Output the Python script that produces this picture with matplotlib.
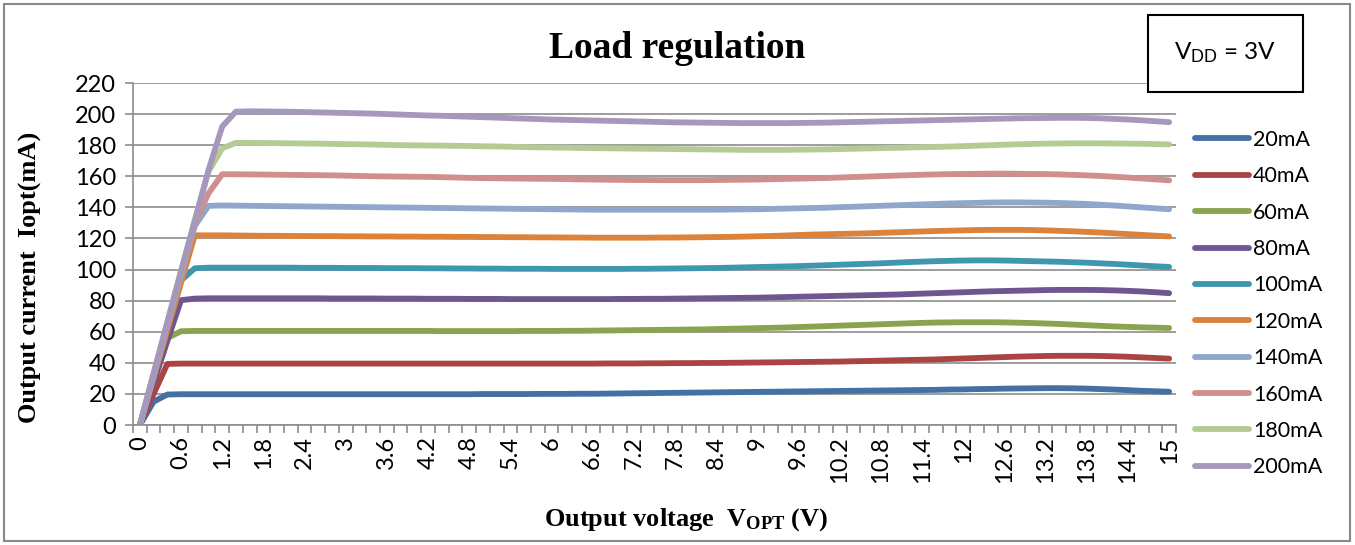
import numpy as np
import matplotlib.pyplot as plt
from matplotlib.patches import Rectangle

plt.rcParams['font.family'] = ['Lato', 'DejaVu Sans']
plt.rcParams['mathtext.fontset'] = 'custom'
plt.rcParams['mathtext.bf'] = 'Liberation Serif:bold'
plt.rcParams['mathtext.rm'] = 'Liberation Serif'
plt.rcParams['mathtext.sf'] = 'Lato'

# категории по оси X: 0 ... 15 В с шагом 0.2
voltage = np.round(np.arange(76) * 0.2, 1)

names = ['20mA', '40mA', '60mA', '80mA', '100mA',
         '120mA', '140mA', '160mA', '180mA', '200mA']
colors = ['#4470A5', '#A94442', '#88A44C', '#6F5690', '#3F97AE',
          '#DC823A', '#8FA7CC', '#D08E8D', '#B5CB94', '#A598BC']

i20 = [0, 15.0, 19.6, 19.8, 19.8, 19.8, 19.8, 19.8, 19.8, 19.8,
       19.8, 19.8, 19.8, 19.8, 19.8, 19.8, 19.8, 19.8, 19.8, 19.8,
       19.8, 19.8, 19.8, 19.8, 19.8, 19.9, 19.9, 19.9, 19.9, 20.0,
       20.0, 20.0, 20.1, 20.1, 20.2, 20.3, 20.4, 20.5, 20.6, 20.7,
       20.8, 20.9, 21.0, 21.1, 21.2, 21.3, 21.4, 21.5, 21.6, 21.7,
       21.8, 21.9, 22.0, 22.1, 22.2, 22.3, 22.4, 22.5, 22.6, 22.8,
       22.9, 23.1, 23.2, 23.4, 23.5, 23.6, 23.7, 23.7, 23.6, 23.4,
       23.1, 22.8, 22.4, 22.0, 21.7, 21.4]
i40 = [0, 20.0, 39.3, 39.5, 39.5, 39.5, 39.5, 39.5, 39.5, 39.5,
       39.5, 39.5, 39.5, 39.5, 39.5, 39.5, 39.5, 39.5, 39.5, 39.5,
       39.5, 39.5, 39.5, 39.5, 39.5, 39.5, 39.5, 39.5, 39.5, 39.5,
       39.5, 39.5, 39.5, 39.5, 39.6, 39.6, 39.6, 39.7, 39.7, 39.8,
       39.8, 39.9, 39.9, 40.0, 40.1, 40.2, 40.3, 40.4, 40.5, 40.6,
       40.7, 40.8, 41.0, 41.2, 41.4, 41.6, 41.8, 42.0, 42.2, 42.5,
       42.8, 43.1, 43.4, 43.7, 44.0, 44.2, 44.4, 44.5, 44.5, 44.5,
       44.4, 44.2, 43.9, 43.5, 43.1, 42.7]
i60 = [0, 28.0, 56.0, 60.3, 60.5, 60.5, 60.5, 60.5, 60.5, 60.5,
       60.5, 60.5, 60.5, 60.5, 60.5, 60.5, 60.5, 60.5, 60.5, 60.5,
       60.5, 60.5, 60.4, 60.4, 60.4, 60.4, 60.4, 60.4, 60.5, 60.5,
       60.5, 60.6, 60.6, 60.7, 60.8, 60.9, 61.0, 61.1, 61.2, 61.3,
       61.4, 61.5, 61.7, 61.9, 62.1, 62.3, 62.5, 62.7, 63.0, 63.3,
       63.6, 63.9, 64.2, 64.5, 64.8, 65.1, 65.4, 65.7, 65.9, 66.0,
       66.1, 66.1, 66.1, 66.0, 65.8, 65.6, 65.3, 65.0, 64.6, 64.2,
       63.8, 63.4, 63.1, 62.8, 62.6, 62.4]
i80 = [0, 27.0, 54.0, 80.3, 81.3, 81.5, 81.5, 81.5, 81.5, 81.5,
       81.5, 81.5, 81.5, 81.5, 81.4, 81.4, 81.4, 81.4, 81.3, 81.3,
       81.3, 81.2, 81.2, 81.2, 81.1, 81.1, 81.1, 81.0, 81.0, 81.0,
       81.0, 81.0, 81.0, 81.0, 81.0, 81.1, 81.1, 81.2, 81.2, 81.3,
       81.4, 81.5, 81.6, 81.7, 81.8, 81.9, 82.1, 82.3, 82.5, 82.7,
       82.9, 83.1, 83.3, 83.5, 83.7, 83.9, 84.2, 84.5, 84.8, 85.1,
       85.4, 85.7, 86.0, 86.2, 86.4, 86.6, 86.8, 86.9, 86.9, 86.9,
       86.8, 86.6, 86.3, 85.9, 85.4, 84.8]
i100 = [0, 31.0, 62.0, 93.0, 100.8, 101.2, 101.2, 101.2, 101.2, 101.2,
        101.2, 101.2, 101.1, 101.1, 101.1, 101.0, 101.0, 101.0, 100.9, 100.9,
        100.9, 100.8, 100.8, 100.7, 100.7, 100.6, 100.6, 100.5, 100.5, 100.5,
        100.4, 100.4, 100.4, 100.4, 100.4, 100.4, 100.5, 100.5, 100.6, 100.7,
        100.8, 100.9, 101.0, 101.2, 101.4, 101.6, 101.8, 102.0, 102.2, 102.5,
        102.8, 103.1, 103.4, 103.7, 104.0, 104.4, 104.8, 105.1, 105.4, 105.6,
        105.8, 105.9, 105.9, 105.8, 105.6, 105.4, 105.2, 105.0, 104.7, 104.4,
        104.0, 103.6, 103.1, 102.6, 102.1, 101.7]
i120 = [0, 30.5, 61.0, 91.5, 122.0, 122.0, 122.0, 121.9, 121.8, 121.7,
        121.7, 121.6, 121.6, 121.5, 121.5, 121.4, 121.4, 121.3, 121.3, 121.2,
        121.2, 121.1, 121.1, 121.0, 121.0, 120.9, 120.9, 120.8, 120.8, 120.7,
        120.7, 120.6, 120.6, 120.5, 120.5, 120.5, 120.5, 120.5, 120.6, 120.6,
        120.7, 120.8, 120.9, 121.0, 121.2, 121.4, 121.6, 121.9, 122.2, 122.5,
        122.7, 122.9, 123.1, 123.3, 123.6, 123.9, 124.2, 124.5, 124.8, 125.0,
        125.2, 125.4, 125.5, 125.5, 125.5, 125.4, 125.2, 124.9, 124.6, 124.2,
        123.8, 123.3, 122.8, 122.3, 121.8, 121.3]
i140 = [0, 32.0, 64.0, 96.0, 128.0, 141.0, 141.2, 141.1, 141.0, 140.9,
        140.8, 140.7, 140.6, 140.5, 140.4, 140.3, 140.2, 140.1, 140.0, 139.9,
        139.8, 139.7, 139.6, 139.5, 139.4, 139.3, 139.2, 139.1, 139.0, 138.9,
        138.8, 138.7, 138.6, 138.5, 138.5, 138.5, 138.5, 138.5, 138.5, 138.5,
        138.5, 138.5, 138.5, 138.6, 138.7, 138.8, 139.0, 139.2, 139.4, 139.6,
        139.8, 140.1, 140.4, 140.7, 141.0, 141.3, 141.6, 141.9, 142.2, 142.5,
        142.7, 142.9, 143.1, 143.2, 143.2, 143.1, 143.0, 142.8, 142.5, 142.2,
        141.7, 141.2, 140.6, 140.0, 139.4, 138.8]
i160 = [0, 32.5, 65.0, 97.5, 130.0, 149.0, 161.3, 161.3, 161.2, 161.1,
        161.0, 160.9, 160.8, 160.7, 160.6, 160.4, 160.2, 160.0, 159.9, 159.8,
        159.7, 159.6, 159.4, 159.2, 159.0, 158.8, 158.7, 158.6, 158.5, 158.4,
        158.3, 158.2, 158.0, 157.9, 157.8, 157.7, 157.6, 157.6, 157.5, 157.5,
        157.5, 157.5, 157.6, 157.7, 157.8, 157.9, 158.1, 158.3, 158.5, 158.7,
        158.9, 159.2, 159.5, 159.8, 160.1, 160.4, 160.7, 161.0, 161.2, 161.4,
        161.5, 161.6, 161.7, 161.7, 161.6, 161.5, 161.4, 161.2, 160.9, 160.6,
        160.2, 159.7, 159.2, 158.6, 158.0, 157.4]
i180 = [0, 33.0, 66.0, 99.0, 132.0, 163.0, 178.0, 181.5, 181.5, 181.4,
        181.3, 181.2, 181.1, 181.0, 180.8, 180.7, 180.6, 180.4, 180.2, 180.0,
        179.9, 179.8, 179.7, 179.6, 179.5, 179.3, 179.2, 179.0, 178.8, 178.6,
        178.5, 178.4, 178.2, 178.1, 178.0, 177.9, 177.8, 177.7, 177.6, 177.5,
        177.4, 177.3, 177.2, 177.1, 177.0, 177.0, 177.0, 177.0, 177.1, 177.2,
        177.3, 177.5, 177.7, 177.9, 178.1, 178.3, 178.5, 178.7, 178.9, 179.1,
        179.4, 179.7, 180.0, 180.3, 180.6, 180.8, 181.0, 181.1, 181.2, 181.2,
        181.2, 181.1, 181.0, 180.9, 180.7, 180.5]
i200 = [0, 33.0, 66.0, 99.0, 131.0, 164.0, 192.0, 201.6, 201.8, 201.7,
        201.6, 201.5, 201.3, 201.1, 200.9, 200.7, 200.5, 200.3, 200.0, 199.7,
        199.4, 199.1, 198.9, 198.6, 198.3, 198.0, 197.7, 197.4, 197.1, 196.8,
        196.5, 196.3, 196.1, 195.9, 195.7, 195.5, 195.3, 195.1, 194.9, 194.7,
        194.6, 194.5, 194.4, 194.3, 194.2, 194.2, 194.2, 194.2, 194.3, 194.4,
        194.5, 194.7, 194.9, 195.1, 195.3, 195.5, 195.7, 195.9, 196.1, 196.3,
        196.5, 196.7, 196.9, 197.1, 197.3, 197.4, 197.5, 197.6, 197.6, 197.5,
        197.3, 196.9, 196.5, 196.0, 195.4, 194.8]

series = [i20, i40, i60, i80, i100, i120, i140, i160, i180, i200]

W, H = 1355, 545
fig = plt.figure(figsize=(W / 100, H / 100), dpi=100)
ax = fig.add_axes([133 / W, 1 - 425 / H, (1176 - 133) / W, (425 - 83) / H])

x = np.arange(len(voltage))
for name, vals, col in zip(names, series, colors):
    ax.plot(x, vals, color=col, lw=4.2, label=name,
            solid_capstyle='round', solid_joinstyle='round')

grey = '#8c8c8c'
ax.set_xlim(-0.5, len(voltage) - 0.5)
ax.set_ylim(0, 220)
ax.set_yticks(range(0, 221, 20))
ax.yaxis.grid(True, color=grey, lw=1.2)
ax.set_axisbelow(True)
for s in ['top', 'right']:
    ax.spines[s].set_visible(False)
for s in ['left', 'bottom']:
    ax.spines[s].set_color(grey)
    ax.spines[s].set_linewidth(1.2)

# засечки между категориями, подписи - каждая третья категория
ax.set_xticks(np.arange(-0.5, len(voltage), 1))
ax.tick_params(axis='x', which='major', length=6, color=grey, width=1.2,
               labelbottom=False)
ax.set_xticks(x[::3], minor=True)
ax.set_xticklabels(['%g' % v for v in voltage[::3]], minor=True, rotation=90)
ax.tick_params(axis='x', which='minor', length=0, pad=8, labelsize=17)
ax.tick_params(axis='y', length=6, color=grey, width=1.2, pad=6, labelsize=17)

fig.legend(*ax.get_legend_handles_labels(), loc='upper left',
           bbox_to_anchor=(1195 / W, 1 - 130 / H), frameon=False, fontsize=15.5,
           handlelength=2.5, handletextpad=0.2, labelspacing=0.76,
           borderaxespad=0, borderpad=0)

fig.text(677 / W, 1 - 48 / H, 'Load regulation', ha='center', va='center',
         fontsize=27, fontweight='bold', family='Liberation Serif')
fig.text(30 / W, 1 - 277 / H, 'Output current  Iopt(mA)', rotation=90,
         ha='center', va='center', fontsize=19, fontweight='bold',
         family='Liberation Serif')
fig.text(686 / W, 1 - 520 / H, r'Output voltage  $\mathbf{V_{OPT}}$ (V)',
         ha='center', va='center', fontsize=19, fontweight='bold',
         family='Liberation Serif')

fig.add_artist(Rectangle((1148 / W, 1 - 92 / H), 155 / W, 77 / H,
                         transform=fig.transFigure, fc='white', ec='black', lw=1.5))
fig.text(1225 / W, 1 - 53 / H, r'$\mathsf{V_{DD}}$ = 3V', ha='center', va='center',
         fontsize=17.5)
fig.add_artist(Rectangle((4 / W, 1 - 541 / H), 1346 / W, 537 / H,
                         transform=fig.transFigure, fill=False, ec='#8a8a8a', lw=1.5))

fig.savefig('out.png', dpi=100)
